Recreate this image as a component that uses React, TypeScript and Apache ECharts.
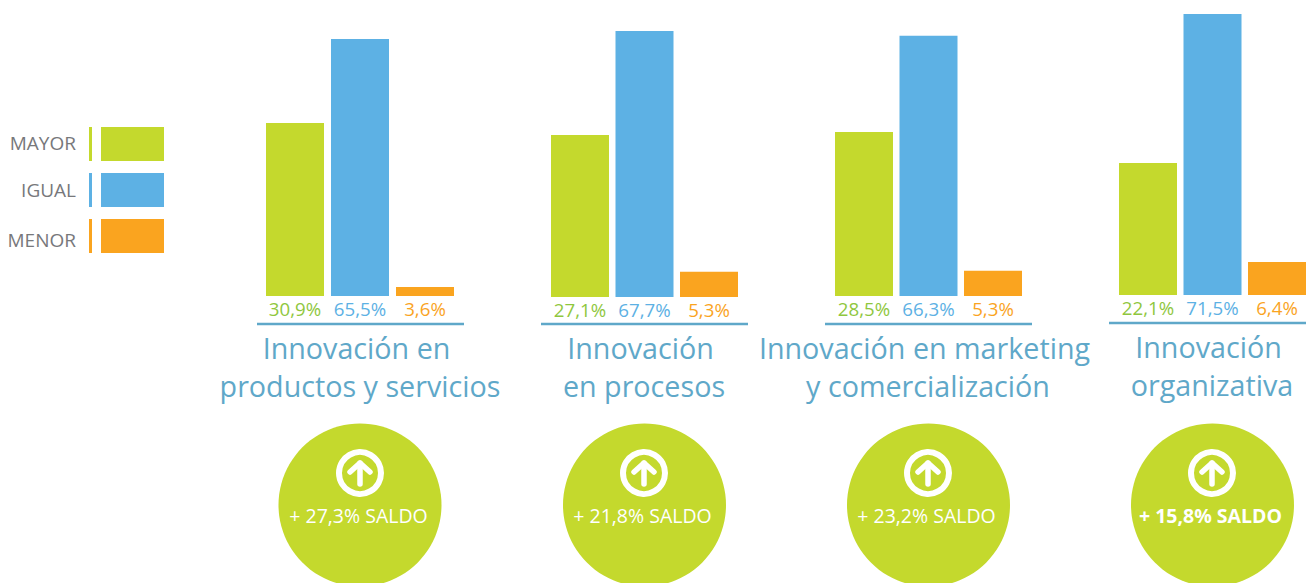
import React, { useEffect, useRef } from "react";
import * as echarts from "echarts";

const seriesNames = ["MAYOR", "IGUAL", "MENOR"];
const colors = ["#c4d92d", "#5db1e4", "#faa41f"];
const labelColors = ["#8fc73e", "#5db1e4", "#faa41f"];

const printedLabels = [
  ["30,9%", "65,5%", "3,6%"],
  ["27,1%", "67,7%", "5,3%"],
  ["28,5%", "66,3%", "5,3%"],
  ["22,1%", "71,5%", "6,4%"],
];
// The picture's bars are not proportional to their printed labels, so the bar lengths are read separately.
const drawnBars = [
  [44.0, 65.4, 2.3],
  [41.2, 67.7, 6.4],
  [41.7, 66.2, 6.4],
  [33.6, 71.5, 8.4],
];
const titles = [
  "Innovación en\nproductos y servicios",
  "Innovación\nen procesos",
  "Innovación en marketing\ny comercialización",
  "Innovación\norganizativa",
];
const saldos = ["+ 27,3% SALDO", "+ 21,8% SALDO", "+ 23,2% SALDO", "+ 15,8% SALDO"];
const font = "'Open Sans', 'Noto Sans', sans-serif";

const gridLefts = [262.5, 547.75, 831.75, 1115.75];
const bandWidths = [195, 193.5, 193.5, 193.5];
const baselines = [296, 297, 296, 295];
const titleCenters = [360, 644, 928, 1212];
const circleCenters = [360, 644.5, 928.5, 1212.5];
const ringCenters = [360, 644, 928, 1212];
const ruleRanges = [[257, 464], [541, 748], [825, 1032], [1109, 1306]];
const ruleY = [324, 324, 324, 323];
const titleY = [347, 347, 347, 346];

export default function App() {
  const ref = useRef<HTMLDivElement>(null);
  useEffect(() => {
    if (!ref.current) return;
    const chart = echarts.init(ref.current, undefined, { renderer: "svg" });
    const scale = 3.93;
    const axisMax = 75;
    const gridH = axisMax * scale;
    const graphic: any[] = [];
    const legendNudge = [-1, 0, 4];

    seriesNames.forEach((n, i) => {
      const y = 127 + i * 46;
      graphic.push({
        type: "text", x: 76, y: y + 17 + legendNudge[i],
        style: { text: n, font: `19px ${font}`, fill: "#77787b", align: "right", verticalAlign: "middle" },
      });
      graphic.push({ type: "rect", shape: { x: 89, y, width: 3, height: 34 }, style: { fill: colors[i] } });
      graphic.push({ type: "rect", shape: { x: 101, y, width: 63, height: 34 }, style: { fill: colors[i] } });
    });

    titles.forEach((t, i) => {
      graphic.push({
        type: "line",
        shape: { x1: ruleRanges[i][0], y1: ruleY[i], x2: ruleRanges[i][1], y2: ruleY[i] },
        style: { stroke: "#5fa8c9", lineWidth: 2.5 },
      });
      t.split("\n").forEach((line, j) => {
        graphic.push({
          type: "text", x: titleCenters[i] - (j === 0 ? 3.5 : 0), y: titleY[i] + j * 38.5,
          style: { text: line, font: `28.7px ${font}`, fill: "#5fa8c9", align: "center", verticalAlign: "middle" },
        });
      });
      const cx = ringCenters[i];
      graphic.push({ type: "circle", shape: { cx: circleCenters[i], cy: 505, r: 81.5 }, style: { fill: "#c4d92d" } });
      graphic.push({ type: "circle", shape: { cx, cy: 473, r: 21 }, style: { fill: "none", stroke: "#fff", lineWidth: 6 } });
      graphic.push({ type: "line", shape: { x1: cx, y1: 484, x2: cx, y2: 463 }, style: { stroke: "#fff", lineWidth: 5.5, lineCap: "round" } });
      graphic.push({
        type: "polyline",
        shape: { points: [[cx - 10, 472], [cx, 463], [cx + 10, 472]] },
        style: { stroke: "#fff", fill: "none", lineWidth: 5.5, lineCap: "round", lineJoin: "round" },
      });
      graphic.push({
        type: "text", x: cx + (i === 3 ? -1.5 : -1.5), y: 515.5,
        style: {
          text: saldos[i],
          font: `${i === 3 ? "bold " : ""}19.5px ${font}`,
          fill: "#fff", align: "center", verticalAlign: "middle",
        },
      });
    });

    chart.setOption({
      animation: false,
      backgroundColor: "#ffffff",
      grid: gridLefts.map((left, i) => ({
        left, width: bandWidths[i], top: baselines[i] - gridH, height: gridH,
      })),
      xAxis: printedLabels.map((labels, i) => ({
        type: "category", gridIndex: i,
        data: labels.map((l, k) => ({ value: l, textStyle: { color: labelColors[k] } })),
        axisLine: { show: false }, axisTick: { show: false },
        axisLabel: { fontSize: 18.7, fontFamily: font, margin: 3, interval: 0 },
      })),
      yAxis: printedLabels.map((_, i) => ({
        type: "value", gridIndex: i, min: 0, max: axisMax,
        show: false, splitLine: { show: false },
      })),
      series: drawnBars.map((vals, i) => ({
        type: "bar", xAxisIndex: i, yAxisIndex: i, barWidth: 58,
        data: vals.map((v, k) => ({ value: v, itemStyle: { color: colors[k] } })),
      })),
      graphic: { elements: graphic },
    });
    return () => chart.dispose();
  }, []);
  // The last group's band runs past the window's right edge, so the chart box is a little wider than the page.
  return <div ref={ref} style={{ position: "fixed", left: 0, top: 0, width: 1330, height: 583 }} />;
}
